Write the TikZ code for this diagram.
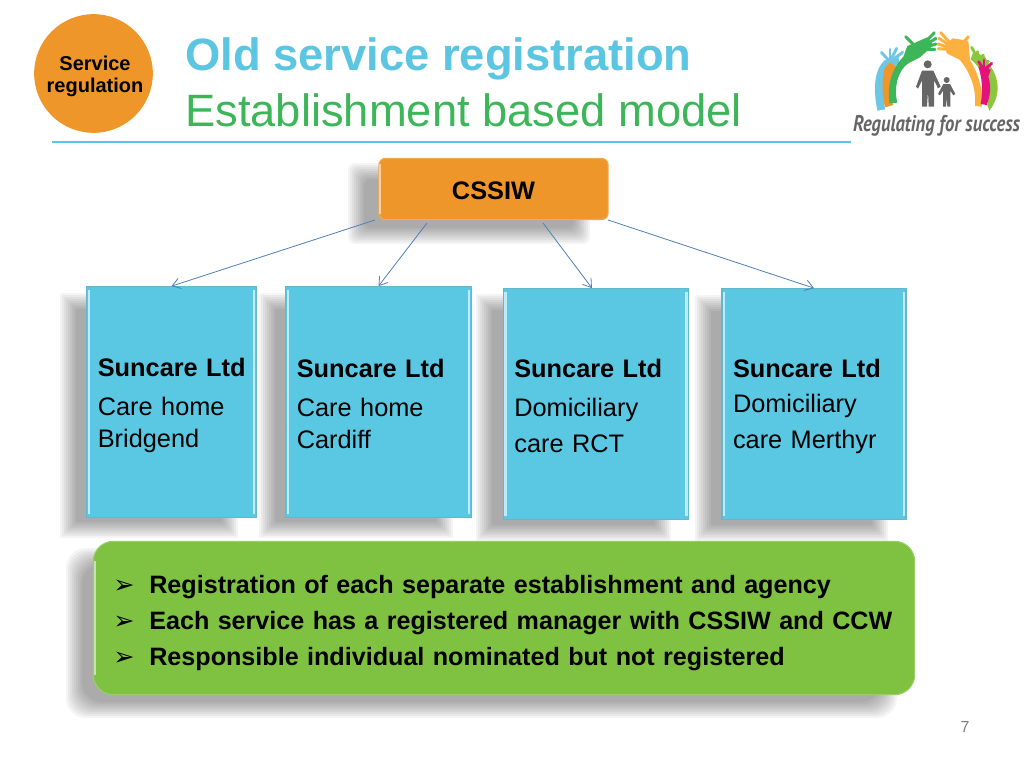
\documentclass[tikz,border=0pt]{standalone}
\usepackage{fontspec}
\setmainfont{Liberation Sans}
\newfontfamily\dingfont{DejaVu Sans}
\newfontfamily\logofont{PT Sans}
\usetikzlibrary{arrows.meta}
\definecolor{titleblue}{HTML}{5BC5E2}
\definecolor{titlegreen}{HTML}{3DB559}
\definecolor{regorange}{HTML}{EF962A}
\definecolor{regblue}{HTML}{5BC8E3}
\definecolor{reggreen}{HTML}{7FC241}
\definecolor{linkblue}{HTML}{4F7FB5}
\definecolor{logogray}{HTML}{666666}
\definecolor{logoblue}{HTML}{6EC6E6}
\definecolor{logoamber}{HTML}{FBB040}
\definecolor{logolime}{HTML}{8CC63F}
\definecolor{logopink}{HTML}{E5127D}
\tikzset{
  softshadow/.style={fill=black,opacity=0.045,draw=none},
  regbox/.style={draw=regblue!75!gray,line width=0.8pt,fill=regblue,minimum height=173pt,
    inner xsep=8.25pt,inner ysep=0pt,align=left,font=\fontsize{19}{23}\selectfont},
  bevelline/.style={draw=cyan!25!white,line width=1.6pt},
  link/.style={draw=linkblue,line width=0.6pt,-{Straight Barb[length=6pt,width=8pt]}},
  titletext/.style={anchor=base west,inner sep=0pt,font=\fontsize{34}{40}\selectfont},
  finger/.style={line cap=round,line width=2.2pt},
}
\newcommand{\blurbox}[5]{%
  \foreach \d in {12,10,8,6,4,2,0,-2,-4}
    \fill[softshadow,rounded corners=#5] ({#1-\d},{#2-\d}) rectangle ({#3+\d},{#4+\d});
}
\newcommand{\pointer}{\hspace*{7pt}\makebox[27pt][l]{\dingfont\fontsize{19}{19}\selectfont ➢}}
\newcommand{\firm}[1]{\rule{0pt}{#1}\mbox{\textbf{Suncare Ltd}}}
\begin{document}
\begin{tikzpicture}[x=0.75pt,y=-0.75pt]
\useasboundingbox (0,0) rectangle (1024,768);
% heading
\node[circle,fill=regorange,minimum size=89pt,inner sep=0pt] (badge) at (93.5,73.5) {};
\node[inner sep=0pt,align=center,font=\fontsize{15}{16.5}\bfseries\selectfont] (badgetext) at (95,76) {Service\\regulation};
\node[titletext,text=titleblue] (title) at (185,70.5) {\bfseries Old service registration};
\node[titletext,text=titlegreen] (subtitle) at (185,126) {Establishment based model};
\coordinate (ruleleft) at (52,142);
\coordinate (ruleright) at (851,142);
\draw[titleblue,line width=2pt] (ruleleft) -- (ruleright);
% logo
\begin{scope}[shift={(840,20)},x=0.25pt,y=-0.25pt]
 % blue hand
 \fill[logoblue] (112,272) .. controls (98,200) and (105,150) .. (132,122) -- (175,108) -- (178,128) .. controls (145,150) and (125,210) .. (135,268) -- cycle;
 \foreach \t in {(124,97),(150,88),(170,85),(188,97)} \draw[finger,logoblue] (150,125) -- \t;
 % orange hand
 \fill[regorange] (135,262) .. controls (125,220) and (125,170) .. (135,142) -- (150,128) -- (168,140) -- (155,172) .. controls (148,200) and (150,235) .. (160,255) -- cycle;
 % green hand
 \fill[titlegreen] (148,250) .. controls (140,190) and (160,140) .. (190,110) -- (202,78) -- (262,52) -- (280,76) -- (240,112) -- (205,130) .. controls (175,150) and (160,200) .. (172,248) -- cycle;
 \foreach \t in {(197,50),(283,38),(288,55),(288,72),(285,88)} \draw[finger,titlegreen] (235,88) -- \t;
 % lime hand
 \fill[logolime] (392,118) -- (400,95) -- (435,110) -- (445,130) .. controls (478,170) and (485,225) .. (448,272) -- (442,255) .. controls (455,200) and (430,150) .. (392,118) -- cycle;
 \foreach \t in {(395,82),(412,95),(430,105),(445,125)} \draw[finger,logolime] (418,125) -- \t;
 % amber hand
 \fill[logoamber] (338,55) -- (385,62) -- (390,120) .. controls (420,170) and (430,220) .. (425,260) -- (405,258) .. controls (410,200) and (385,150) .. (360,120) -- (320,100) -- (315,75) -- cycle;
 \foreach \t in {(385,50),(302,38),(297,55),(294,72),(295,86)} \draw[finger,logoamber] (350,90) -- \t;
 % pink hand
 \fill[logopink] (415,140) -- (440,140) -- (452,150) -- (445,170) .. controls (455,200) and (450,230) .. (440,255) -- (422,252) .. controls (430,210) and (425,170) .. (415,140) -- cycle;
 \foreach \t in {(416,125),(432,120),(455,130)} \draw[finger,logopink] (432,150) -- \t;
 % figures
 \fill[logogray] (263,133) circle (12);
 \fill[logogray] (246,152) -- (280,152) -- (302,200) -- (294,205) -- (282,180) -- (282,260) -- (266,260) -- (264,212) -- (261,260) -- (246,260) -- (246,182) -- (234,206) -- (228,200) -- cycle;
 \fill[logogray] (320,180) circle (9);
 \fill[logogray] (310,192) -- (330,192) -- (346,222) -- (340,226) -- (331,212) -- (331,260) -- (322,260) -- (320,232) -- (318,260) -- (309,260) -- (309,212) -- (300,226) -- (294,222) -- cycle;
\end{scope}
\node[inner sep=0pt,text=logogray,xscale=0.82,font=\logofont\fontsize{17}{17}\bfseries\itshape\selectfont] (logotext) at (936.5,125.5) {Regulating for success};
% shadows
\blurbox{360}{175}{578}{232}{5pt}
\blurbox{72}{305}{226}{526}{1pt}
\blurbox{271}{305}{441}{526}{1pt}
\blurbox{488}{306}{659}{529}{1pt}
\blurbox{707}{307}{876}{529}{1pt}
\blurbox{78}{560}{885}{706}{15pt}
% boxes
\node[draw=regorange!80!white,line width=0.8pt,fill=regorange,rounded corners=5pt,minimum width=172pt,minimum height=46pt,
  inner sep=0pt,font=\fontsize{19}{23}\bfseries\selectfont] (cssiw) at (493.5,189) {\rule{0pt}{16pt}CSSIW};
\draw[regorange!45!white,line width=1.4pt] ([shift={(1.5pt,-5pt)}]cssiw.north west) -- ([shift={(1.5pt,5pt)}]cssiw.south west);
\node[regbox,minimum width=127pt,text width=110.5pt] (suncare1) at (171.5,402)
  {\firm{19pt}\\[6pt]Care home\\[0.8pt]Bridgend};
\node[regbox,minimum width=139pt,text width=122.5pt] (suncare2) at (378.5,402)
  {\firm{16.5pt}\\[6pt]Care home\\[0.8pt]Cardiff};
\node[regbox,minimum width=139pt,text width=122.5pt] (suncare3) at (596,404)
  {\firm{17pt}\\[6.5pt]Domiciliary\\[4pt]care RCT};
\node[regbox,minimum width=138pt,text width=121.5pt] (suncare4) at (814,404)
  {\firm{17pt}\\[3pt]Domiciliary\\[4pt]care Merthyr};
\foreach \b in {suncare1,suncare2,suncare3,suncare4}{
  \draw[bevelline] ([shift={(2pt,-3pt)}]\b.north west) -- ([shift={(2pt,3pt)}]\b.south west);
  \draw[bevelline] ([shift={(-2pt,-3pt)}]\b.north east) -- ([shift={(-2pt,3pt)}]\b.south east);
}
% summary
\node[draw=reggreen!80!white,line width=0.8pt,fill=reggreen,rounded corners=15pt,minimum width=616pt,minimum height=115pt,
  inner xsep=8pt,inner ysep=0pt,text width=600pt,align=left,font=\fontsize{18.85}{26.8}\bfseries\selectfont] (summary) at (504,618)
  {\rule{0pt}{21pt}\pointer Registration of each separate establishment and agency\\
   \pointer Each service has a registered manager with CSSIW and CCW\\
   \pointer Responsible individual nominated but not registered};
\draw[reggreen!45!white,line width=1.4pt] ([shift={(1.5pt,-15pt)}]summary.north west) -- ([shift={(1.5pt,15pt)}]summary.south west);
% links
\coordinate (from1) at (375,220);
\coordinate (from2) at (427,223);
\coordinate (from3) at (543,223);
\coordinate (from4) at (608,220);
\draw[link] (from1) -- (suncare1.north);
\draw[link] (from2) -- (suncare2.north);
\draw[link] (from3) -- (suncare3.92);
\draw[link] (from4) -- (suncare4.north);
\node[text=gray,inner sep=0pt,font=\fontsize{12}{14}\selectfont] (pagenum) at (965,727) {7};
\end{tikzpicture}
\end{document}
